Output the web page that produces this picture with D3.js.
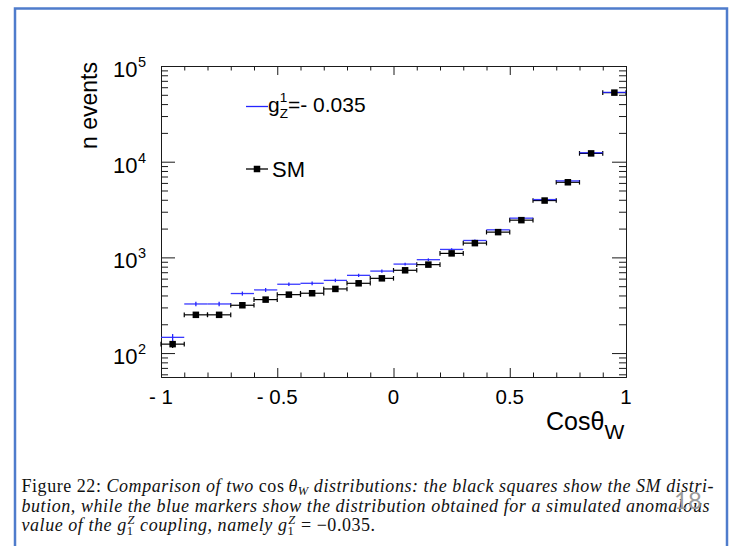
<!DOCTYPE html>
<html>
<head>
<meta charset="utf-8">
<script src="https://cdn.jsdelivr.net/npm/d3@7"></script>
<style>
  html, body { margin: 0; padding: 0; background: #fff; }
  svg { display: block; }
</style>
</head>
<body>
<svg id="chart" width="739" height="546"></svg>
<script>
// ---------------- data ----------------
const binCenters = [-0.95, -0.85, -0.75, -0.65, -0.55, -0.45, -0.35, -0.25, -0.15, -0.05,
                    0.05, 0.15, 0.25, 0.35, 0.45, 0.55, 0.65, 0.75, 0.85, 0.95];
const binHalfWidth = 0.05;
const smValues = [124, 251, 251, 316, 362, 408, 422, 468, 536, 604,
                  733, 840, 1101, 1409, 1836, 2449, 3926, 6095, 12210, 52700];
const g1Values = [146, 326, 326, 419, 457, 524, 536, 575, 649, 719,
                  851, 946, 1211, 1502, 1941, 2570, 4020, 6300, 12400, 53000];
const xMajorTicks = [-1, -0.5, 0, 0.5, 1];
const xTickLabels = ["- 1", "- 0.5", "0", "0.5", "1"];
const xMinorTicks = [-0.9, -0.8, -0.7, -0.6, -0.4, -0.3, -0.2, -0.1, 0.1, 0.2, 0.3, 0.4, 0.6, 0.7, 0.8, 0.9];
const yMajorTicks = [100, 1000, 10000, 100000];
const yTickExponents = ["2", "3", "4", "5"];
const yMinorTicks = [60, 70, 80, 90, 200, 300, 400, 500, 600, 700, 800, 900,
                     2000, 3000, 4000, 5000, 6000, 7000, 8000, 9000,
                     20000, 30000, 40000, 50000, 60000, 70000, 80000, 90000];
const legendLabels = ["=- 0.035", "SM"];
const captionLines = [
  [["n", "Figure 22: "], ["i", "Comparison of two "], ["n", "cos"], ["i", "θ"], ["isub", "W"], ["i", " distributions: the black squares show the SM distri-"]],
  [["i", "bution, while the blue markers show the distribution obtained for a simulated anomalous"]],
  [["i", "value of the "], ["i", "g"], ["nsub", "1"], ["isupback", "Z"], ["i", " coupling, namely "], ["i", "g"], ["nsub", "1"], ["isupback", "Z"], ["n", " = −0.035."]]
];

// ---------------- layout ----------------
const svg = d3.select("#chart");
const plot = { left: 161, right: 626, top: 66, bottom: 377 };
const x = d3.scaleLinear().domain([-1, 1]).range([plot.left, plot.right]);
const y = d3.scaleLog().domain([Math.pow(10, 1.75), 1e5]).range([plot.bottom, plot.top]);
const BLUE = "#2424ff";
const AX = "#1a1a1a";
const sans = "'Liberation Sans', Arial, Helvetica, sans-serif";
const serif = "'Liberation Serif', 'DejaVu Serif', serif";

// slide frame
svg.append("rect").attr("x", 15).attr("y", 8.5).attr("width", 712).attr("height", 600)
  .attr("fill", "none").attr("stroke", "#4f7ccc").attr("stroke-width", 2.5);

// ---------------- axes ----------------
function axisGroup(axis, tx, ty) {
  const g = svg.append("g").attr("transform", `translate(${tx},${ty})`).call(axis);
  g.selectAll("text").remove();
  g.select(".domain").attr("stroke", AX);
  g.selectAll(".tick line").attr("stroke", AX);
  return g;
}
const fmtNone = () => "";
axisGroup(d3.axisBottom(x).tickValues(xMajorTicks).tickSizeInner(-9).tickSizeOuter(0).tickFormat(fmtNone), 0, plot.bottom);
axisGroup(d3.axisBottom(x).tickValues(xMinorTicks).tickSizeInner(-4.5).tickSizeOuter(0).tickFormat(fmtNone), 0, plot.bottom);
axisGroup(d3.axisTop(x).tickValues(xMajorTicks).tickSizeInner(-9).tickSizeOuter(0).tickFormat(fmtNone), 0, plot.top);
axisGroup(d3.axisTop(x).tickValues(xMinorTicks).tickSizeInner(-4.5).tickSizeOuter(0).tickFormat(fmtNone), 0, plot.top);
axisGroup(d3.axisLeft(y).tickValues(yMajorTicks).tickSizeInner(-14).tickSizeOuter(0).tickFormat(fmtNone), plot.left, 0);
axisGroup(d3.axisLeft(y).tickValues(yMinorTicks).tickSizeInner(-7).tickSizeOuter(0).tickFormat(fmtNone), plot.left, 0);
axisGroup(d3.axisRight(y).tickValues(yMajorTicks).tickSizeInner(-14).tickSizeOuter(0).tickFormat(fmtNone), plot.right, 0);
axisGroup(d3.axisRight(y).tickValues(yMinorTicks).tickSizeInner(-7).tickSizeOuter(0).tickFormat(fmtNone), plot.right, 0);

// tick labels
xMajorTicks.forEach((v, i) => {
  svg.append("text").attr("x", x(v)).attr("y", 404).attr("text-anchor", "middle")
    .attr("font-family", sans).attr("font-size", 20.5).text(xTickLabels[i]);
});
yMajorTicks.forEach((v, i) => {
  svg.append("text").attr("x", 137.5).attr("y", y(v) + 11).attr("text-anchor", "end")
    .attr("font-family", sans).attr("font-size", 22).text("10");
  svg.append("text").attr("x", 138).attr("y", y(v) + 1).attr("font-family", sans).attr("font-size", 14.5)
    .text(yTickExponents[i]);
});

// axis titles
svg.append("text").attr("transform", "translate(97,62) rotate(-90)").attr("text-anchor", "end")
  .attr("font-family", sans).attr("font-size", 23).text("n events");
const xt = svg.append("text").attr("x", 546).attr("y", 430).attr("font-family", sans).attr("font-size", 25);
xt.append("tspan").text("Cosθ");
xt.append("tspan").attr("font-size", 21).attr("dy", 9).text("W");

// ---------------- data marks ----------------
const smG = svg.append("g");
binCenters.forEach((c, i) => {
  const v = smValues[i];
  const yy = y(v);
  smG.append("line").attr("x1", x(c - binHalfWidth)).attr("x2", x(c + binHalfWidth))
    .attr("y1", yy).attr("y2", yy).attr("stroke", "#000").attr("stroke-width", 1.2);
  [c - binHalfWidth, c + binHalfWidth].forEach(e => {
    smG.append("line").attr("x1", x(e)).attr("x2", x(e)).attr("y1", yy - 2.3).attr("y2", yy + 2.3)
      .attr("stroke", "#000").attr("stroke-width", 1.2);
  });
  const err = Math.sqrt(v);
  smG.append("line").attr("x1", x(c)).attr("x2", x(c)).attr("y1", y(v + err)).attr("y2", y(Math.max(v - err, 1)))
    .attr("stroke", "#000").attr("stroke-width", 1.2);
});
const g1G = svg.append("g");
binCenters.forEach((c, i) => {
  const v = g1Values[i];
  const yy = y(v);
  g1G.append("line").attr("x1", x(c - binHalfWidth)).attr("x2", Math.min(x(c + binHalfWidth), plot.right))
    .attr("y1", yy).attr("y2", yy).attr("stroke", BLUE).attr("stroke-width", 1.3).attr("stroke-opacity", 0.9);
  const err = Math.sqrt(v);
  g1G.append("line").attr("x1", x(c)).attr("x2", x(c)).attr("y1", y(v + err)).attr("y2", y(v - err))
    .attr("stroke", BLUE).attr("stroke-width", 1.3);
});
const mk = 6.5;
svg.append("g").selectAll("rect").data(binCenters).join("rect")
  .attr("x", d => x(d) - mk / 2).attr("y", (d, i) => y(smValues[i]) - mk / 2)
  .attr("width", mk).attr("height", mk).attr("fill", "#000");

// ---------------- legend ----------------
svg.append("line").attr("x1", 246).attr("x2", 268).attr("y1", 106.5).attr("y2", 106.5)
  .attr("stroke", BLUE).attr("stroke-width", 1.3);
const lg = svg.append("text").attr("x", 268).attr("y", 112).attr("font-family", sans).attr("font-size", 21);
lg.append("tspan").text("g");
lg.append("tspan").attr("font-size", 13.5).attr("dy", -10).text("1");
lg.append("tspan").attr("font-size", 13.5).attr("dx", -7.5).attr("dy", 16).text("Z");
lg.append("tspan").attr("dy", -6).text(legendLabels[0]);

svg.append("line").attr("x1", 246).attr("x2", 268).attr("y1", 169).attr("y2", 169)
  .attr("stroke", "#000").attr("stroke-width", 1.3);
svg.append("rect").attr("x", 257 - mk / 2).attr("y", 169 - mk / 2).attr("width", mk).attr("height", mk).attr("fill", "#000");
svg.append("text").attr("x", 272).attr("y", 177).attr("font-family", sans).attr("font-size", 22).text(legendLabels[1]);

// ---------------- caption ----------------
const capX = 21.5, capRight = 710, capBase = [492, 511.5, 531];
let spacing = 0;
captionLines.forEach((parts, li) => {
  const t = svg.append("text").attr("x", capX).attr("y", capBase[li]).attr("font-family", serif)
    .attr("font-size", 18).attr("fill", "#111");
  let shift = 0;
  parts.forEach(([kind, s]) => {
    const sp = t.append("tspan").text(s);
    if (kind.startsWith("i")) sp.attr("font-style", "italic");
    let target = 0;
    if (kind === "isub") target = 3;
    else if (kind === "nsub") target = 4;
    else if (kind === "isupback") { target = -7; sp.attr("dx", -6); }
    if (kind !== "n" && kind !== "i") sp.attr("font-size", 12.5);
    if (kind === "n" && s === "cos") sp.attr("dx", 0);
    if (kind === "i" && s === "θ") sp.attr("dx", 4);
    if (target !== shift) { sp.attr("dy", target - shift); shift = target; }
  });
  if (li < 2) {
    const len = t.node().getComputedTextLength();
    const nChars = parts.map(p => p[1]).join("").length;
    spacing = (capRight - capX - len) / nChars;
  }
  t.attr("letter-spacing", spacing);
});

// page number
svg.append("text").attr("x", 674).attr("y", 509).attr("font-family", "Lato, 'Open Sans', sans-serif")
  .attr("font-size", 24).attr("fill", "#9a9a9a").text("18");
</script>
</body>
</html>
